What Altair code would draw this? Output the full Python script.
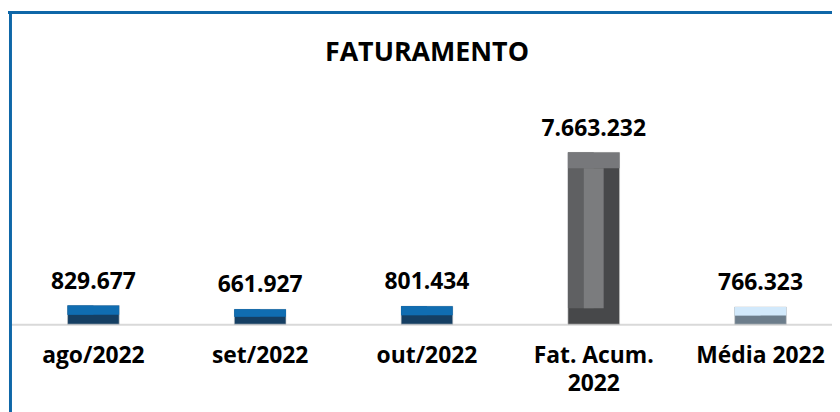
import altair as alt
import pandas as pd

# ---- data ----
title_text = ["FATURAMENTO"]
categories = ["ago/2022", "set/2022", "out/2022", "Fat. Acum. 2022", "Média 2022"]
values = [829677, 661927, 801434, 7663232, 766323]
value_labels = [f"{v:,}".replace(",", ".") for v in values]

# ---- styles ----
top_colors = ["#106db1", "#106db1", "#106db1", "#77787b", "#d2e9fb"]
dark_colors = ["#153f63", "#153f63", "#153f63", "#47484a", "#6c7d8b"]
left_colors = ["#0f5a93", "#0f5a93", "#0f5a93", "#5f6062", "#a3b6c5"]
center_colors = ["#106db1", "#106db1", "#106db1", "#7b7c7e", "#d2e9fb"]
FRAME = "#0f67a8"
FONT = "Open Sans"

W, H = 828, 225
YMAX = 9_966_000
BEVEL_PX = 16
DVU = BEVEL_PX * YMAX / H

df = pd.DataFrame({"cat": categories, "v": values, "label": value_labels})

x = alt.X(
    "cat:N",
    sort=categories,
    scale=alt.Scale(range=[0, 840], paddingInner=0, paddingOuter=0),
    axis=alt.Axis(
        title=None,
        ticks=False,
        labelAngle=0,
        labelFont=FONT,
        labelFontWeight="bold",
        labelFontSize=23,
        labelColor="black",
        labelPadding=21,
        labelLineHeight=28,
        labelOverlap=False,
        labelLimit=0,
        domainColor="#d9d9d9",
        domainWidth=2,
        labelExpr="datum.value == 'Fat. Acum. 2022' ? ['Fat. Acum.', '2022'] : datum.value",
    ),
)
yscale = alt.Scale(domain=[0, YMAX], nice=False, zero=True)


def col(rng):
    return alt.Color("cat:N", scale=alt.Scale(domain=categories, range=rng), legend=None)


base = alt.Chart(df).transform_calculate(
    dv=f"min(datum.v / 2, {DVU})"
).transform_calculate(
    top_lo="datum.v - datum.dv", bot_hi="datum.dv"
)

dark = base.mark_bar(size=52, stroke="#c8c8c8", strokeWidth=0.6).encode(
    x=x, y=alt.Y("v:Q", scale=yscale, axis=None), y2=alt.datum(0), color=col(dark_colors)
)
left = base.mark_bar(size=26, xOffset=-13).encode(
    x=x, y=alt.Y("v:Q", scale=yscale, axis=None), y2="bot_hi:Q", color=col(left_colors)
)
top = base.mark_bar(size=52).encode(
    x=x, y=alt.Y("v:Q", scale=yscale, axis=None), y2="top_lo:Q", color=col(top_colors)
)
center = base.mark_bar(size=20).encode(
    x=x, y=alt.Y("top_lo:Q", scale=yscale, axis=None), y2="bot_hi:Q", color=col(center_colors)
)
labels = base.mark_text(
    dy=-17, baseline="alphabetic", font=FONT, fontWeight="bold", fontSize=23, color="black"
).encode(x=x, y=alt.Y("v:Q", scale=yscale, axis=None), text="label:N")

one = pd.DataFrame({"t": title_text})
title = alt.Chart(one).mark_text(
    font=FONT, fontSize=27, fontWeight="bold", color="black", baseline="alphabetic", align="center"
).encode(x=alt.value(420), y=alt.value(-40), text="t:N")
frame_top = alt.Chart(one).mark_rule(color=FRAME, strokeWidth=3).encode(
    x=alt.value(-2), x2=alt.value(840), y=alt.value(-89)
)
frame_left = alt.Chart(one).mark_rule(color=FRAME, strokeWidth=3).encode(
    x=alt.value(0.5), y=alt.value(-90), y2=alt.value(400)
)

chart = (
    alt.layer(dark, left, top, center, labels, title, frame_top, frame_left)
    .resolve_scale(color="independent")
    .properties(
        width=W,
        height=H,
        autosize=alt.AutoSizeParams(type="none"),
        padding={"left": 2, "top": 92, "right": 0, "bottom": 87},
        background="white",
    )
    .configure_view(stroke=None)
)

chart.save("out.html", embed_options={"renderer": "svg", "actions": False})
